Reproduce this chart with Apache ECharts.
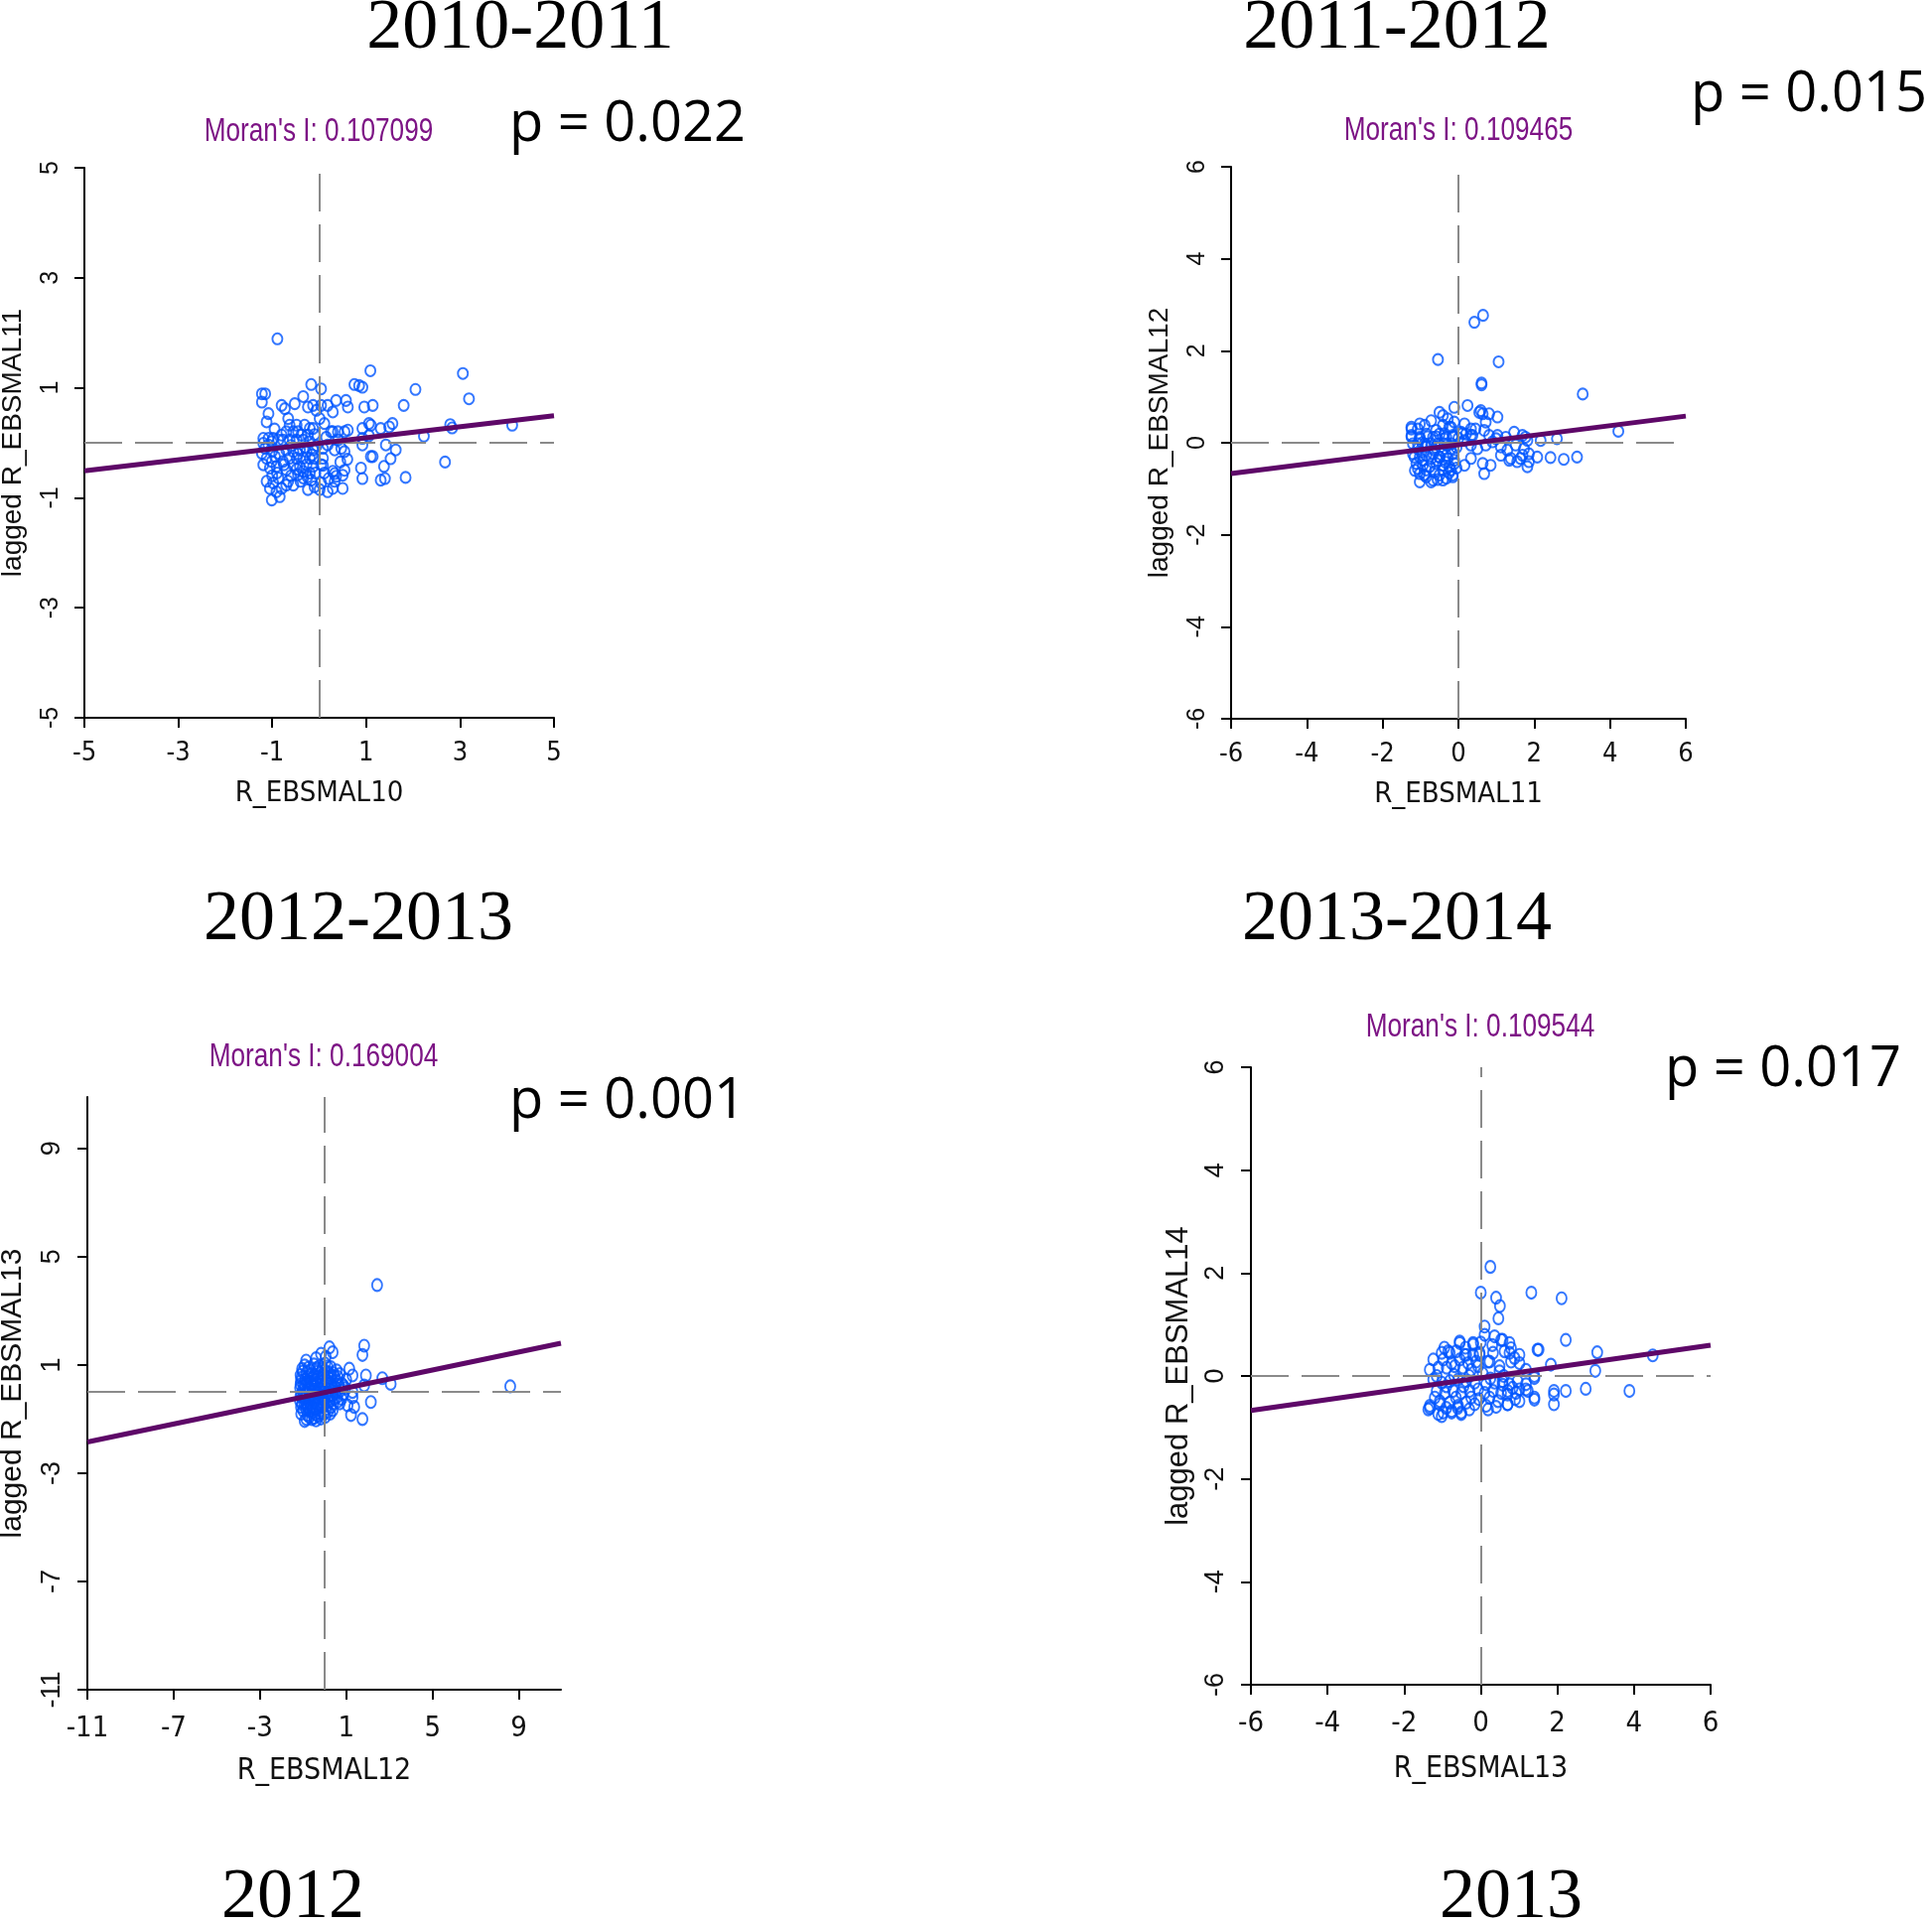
<!DOCTYPE html>
<html>
<head>
<meta charset="utf-8">
<script src="https://cdn.jsdelivr.net/npm/echarts@6/dist/echarts.min.js"></script>
<style>html,body{margin:0;padding:0;background:#fff;}#main{width:1946px;height:1937px;}</style>
</head>
<body>
<div id="main"></div>
<script>
// ---------- DATA ----------
const panelTitles = ['2010-2011', '2011-2012', '2012-2013', '2013-2014'];
const bottomTitles = ['2012', '2013'];
const pValues = ['p = 0.022', 'p = 0.015', 'p = 0.001', 'p = 0.017'];
const moranValues = ['0.107099', '0.109465', '0.169004', '0.109544'];
const xNames = ['R_EBSMAL10', 'R_EBSMAL11', 'R_EBSMAL12', 'R_EBSMAL13'];
const yNames = ['lagged R_EBSMAL11', 'lagged R_EBSMAL12', 'lagged R_EBSMAL13', 'lagged R_EBSMAL14'];

const ticks1 = [-5, -3, -1, 1, 3, 5];
const ticks2 = [-6, -4, -2, 0, 2, 4, 6];
const ticks3 = [-11, -7, -3, 1, 5, 9];
const ticks4 = [-6, -4, -2, 0, 2, 4, 6];

const range1 = {x: [-5, 5], y: [-5, 5]};
const range2 = {x: [-6, 6], y: [-6, 6]};
const range3 = {x: [-11, 10.95], y: [-11, 10.9]};
const range4 = {x: [-6, 6], y: [-6, 6]};

const fit1 = [[-5, -0.51], [5, 0.49]];
const fit2 = [[-6, -0.67], [6, 0.58]];
const fit3 = [[-11, -1.85], [10.95, 1.80]];
const fit4 = [[-6, -0.67], [6, 0.60]];

const points1 = [
[-0.89,1.89],[1.09,1.31],[3.06,1.26],[2.05,0.97],[3.19,0.80],[1.80,0.68],[0.75,1.06],[0.92,1.01],[-0.17,1.06],[0.04,0.98],
[0.85,1.04],
[-1.22,0.89],[-1.15,0.89],[-1.22,0.74],[-0.34,0.84],[-0.52,0.71],[-0.80,0.68],[-0.73,0.62],[-0.24,0.65],[-0.13,0.68],[-0.06,0.59],[0.04,0.68],[0.18,0.68],[0.29,0.56],
[0.36,0.77],[0.57,0.77],[0.61,0.65],[0.96,0.65],[1.14,0.68],
[-1.08,0.53],[-1.12,0.38],[-0.66,0.44],[-0.63,0.32],[0.11,0.35],[0.01,0.44],
[-0.48,0.32],[-0.31,0.32],[-0.20,0.26],[-0.13,0.26],[-0.24,0.14],[-0.38,0.14],[-0.70,0.20],[-0.55,0.20],[-0.80,0.14],
[0.29,0.20],[0.40,0.20],[0.54,0.20],[0.61,0.23],[0.92,0.26],[1.06,0.35],[1.10,0.32],[1.31,0.26],[1.49,0.29],[1.56,0.35],
[2.79,0.33],[2.83,0.27],[4.11,0.32],[2.23,0.12],[0.25,0.20],[0.92,0.08],[1.06,0.13],
[-1.19,0.08],[-1.08,0.08],[-0.98,0.08],[-1.19,-0.01],[-1.08,-0.04],[-1.01,0.02],[-0.87,0.05],[-0.77,0.05],[-0.63,0.05],[-0.48,0.05],[-0.34,0.05],[-0.20,0.02],
[0.47,-0.10],[0.33,-0.13],[0.54,-0.16],[0.18,-0.04],[0.08,-0.10],[0.92,-0.04],[1.42,-0.04],[1.63,-0.13],[2.68,-0.35],
[-1.22,-0.19],[-1.12,-0.28],[-1.01,-0.34],[-1.19,-0.40],[-1.05,-0.46],[-0.91,-0.43],[-0.94,-0.25],
[-0.70,-0.13],[-0.55,-0.16],[-0.41,-0.13],[-0.27,-0.16],[-0.13,-0.13],
[-0.63,-0.28],[-0.48,-0.28],[-0.34,-0.28],[-0.20,-0.28],[-0.10,-0.28],
[-0.55,-0.40],[-0.41,-0.43],[-0.27,-0.40],[-0.13,-0.43],[-0.34,-0.52],[-0.20,-0.55],[-0.45,-0.58],[-0.70,-0.49],[-0.77,-0.34],[-0.17,-0.68],[-0.34,-0.64],
[-1.12,-0.70],[-0.98,-0.73],[-0.87,-0.64],[-1.05,-0.83],[-0.91,-0.89],[-0.80,-0.83],[-1.01,-1.04],[-0.84,-0.98],[-0.66,-0.70],[-0.55,-0.77],[-0.70,-0.77],
[0.08,-0.28],[0.04,-0.40],[0.11,-0.55],[0.29,-0.52],[0.36,-0.61],[0.33,-0.70],[0.50,-0.83],[0.29,-0.83],[0.18,-0.89],[-0.24,-0.85],[0.04,-0.73],[0.01,-0.85],
[0.33,-0.56],[0.50,-0.59],[0.54,-0.50],[0.08,-0.41],
[0.89,-0.46],[1.10,-0.25],[1.14,-0.25],[1.52,-0.29],[1.38,-0.43],[0.92,-0.65],[1.31,-0.68],[1.40,-0.65],[1.84,-0.63],
[-1.15,-0.10],[-1.00,-0.15],[-0.85,-0.20],[-0.60,-0.05],[-0.45,-0.20],[-0.30,-0.08],[-0.15,-0.22],[-0.05,-0.05],[-0.90,-0.55],[-0.60,-0.60],
[-0.48,-0.48],[-0.25,-0.62],[-0.08,-0.55],[-1.00,-0.60],[-0.75,-0.40],[-0.40,-0.70],[-0.10,-0.80],[-0.95,0.25],[-0.45,0.20],[-0.10,0.15],
[0.15,0.10],[0.40,0.05],[0.60,-0.30],[0.20,-0.65],[0.45,-0.35]
];

const points2 = [
[0.42,2.62],[0.65,2.77],[-0.54,1.81],[1.06,1.76],[0.61,1.30],[0.61,1.26],[3.28,1.06],[4.22,0.25],
[-0.50,0.66],[-0.41,0.59],[-0.28,0.52],[-0.11,0.77],[0.24,0.81],[0.59,0.70],[0.64,0.63],[0.72,0.45],[1.03,0.56],[0.81,0.63],[0.55,0.66],
[-1.24,0.30],[-1.02,0.41],[-0.72,0.48],[-0.59,0.27],[-0.20,0.34],[-0.37,0.20],
[0.16,0.41],[0.33,0.30],[0.11,0.20],[0.33,0.16],[0.68,0.27],[0.81,0.16],[1.03,0.16],[1.47,0.23],[1.69,0.16],
[-1.24,0.13],[-1.02,0.09],[-0.81,0.13],[-0.59,0.13],[-0.37,0.09],[-0.15,0.13],
[-1.07,-0.13],[-0.85,-0.09],[-0.63,-0.16],[-0.41,-0.16],[-0.20,-0.13],
[-1.16,-0.31],[-0.94,-0.38],[-0.72,-0.34],[-0.50,-0.31],[-0.28,-0.34],[-0.11,-0.38],
[-1.07,-0.56],[-0.85,-0.59],[-0.63,-0.63],[-0.41,-0.59],[-0.20,-0.59],
[-1.02,-0.85],[-0.72,-0.85],[-0.41,-0.81],[-0.15,-0.74],
[0.16,0.05],[0.33,-0.05],[0.50,-0.13],[0.72,-0.05],[0.90,0.02],[1.12,-0.09],[1.29,-0.16],[1.51,-0.05],[1.73,-0.13],[1.82,0.05],
[0.16,-0.49],[0.33,-0.34],[0.64,-0.45],[0.68,-0.67],[0.85,-0.49],[1.12,-0.27],[1.38,-0.34],[1.55,-0.41],[1.82,-0.52],
[1.69,-0.27],[1.86,-0.24],[2.08,-0.31],[2.43,-0.32],[2.78,-0.36],[3.13,-0.31],[1.86,-0.41],[1.34,-0.38],[1.64,-0.34],
[0.99,0.09],[1.25,0.12],[1.77,0.12],[2.17,0.05],[2.60,0.09],[0.07,0.23],[0.20,0.19],[0.37,0.16],
[-1.24,0.34],[-1.24,0.16],[-1.07,0.30],[-0.89,0.38],
[-1.20,-0.02],[-1.07,-0.02],[-0.89,-0.02],[-0.72,-0.02],[-0.54,-0.02],[-0.37,-0.02],[-0.19,-0.02],
[-1.20,-0.24],[-1.02,-0.31],[-0.85,-0.27],[-0.67,-0.24],[-0.50,-0.31],[-0.32,-0.27],[-0.15,-0.24],
[-1.11,-0.45],[-0.94,-0.49],[-0.76,-0.52],[-0.59,-0.45],[-0.41,-0.49],[-0.24,-0.52],[-0.11,-0.45],
[-1.02,-0.67],[-0.85,-0.74],[-0.67,-0.81],[-0.50,-0.70],[-0.32,-0.77],[-0.15,-0.70],
[-1.02,0.12],[-0.85,0.19],[-0.67,0.12],[-0.50,0.19],[-0.32,0.12],[-0.15,0.16],[-0.41,0.38],[-0.24,0.34],[-0.11,0.45],
[-0.95,0.00],[-0.60,-0.10],[-0.30,-0.05],[-0.05,-0.10],[-0.98,-0.20],[-0.55,-0.38],[-0.35,-0.42],[-0.05,-0.55],[-0.90,-0.70],[-0.55,-0.80],
[-0.25,-0.65],[-1.15,-0.60],[0.00,0.10],[0.45,0.30]
];

const points3 = [
[-0.86,1.16],[-0.93,0.98],[-0.17,1.41],[0.22,1.65],[0.37,1.47],[-0.40,1.25],[0.05,1.30],
[-1.05,0.85],[-0.75,0.90],[-0.50,1.02],[-0.25,0.95],[0.02,1.05],[0.28,0.92],[0.55,0.80],
[-1.12,0.62],[-0.85,0.70],[-0.60,0.66],[-0.33,0.75],[-0.08,0.64],[0.18,0.72],[0.44,0.58],[0.70,0.66],[1.14,0.86],[1.29,0.61],
[-1.10,0.40],[-0.90,0.47],[-0.66,0.36],[-0.42,0.45],[-0.20,0.38],[0.07,0.44],[0.30,0.35],[0.55,0.42],[0.80,0.30],[1.00,0.45],
[-1.14,0.15],[-0.92,0.22],[-0.70,0.10],[-0.47,0.20],[-0.24,0.12],[0.00,0.25],[0.24,0.08],[0.48,0.18],[0.72,0.05],[0.95,0.14],[1.29,0.00],
[-1.08,-0.08],[-0.85,-0.02],[-0.62,-0.12],[-0.38,-0.05],[-0.15,-0.14],[0.10,-0.03],[0.35,-0.10],[0.58,-0.18],[0.85,-0.08],
[-1.15,-0.32],[-0.95,-0.26],[-0.72,-0.38],[-0.50,-0.28],[-0.27,-0.40],[-0.03,-0.30],[0.22,-0.36],[0.45,-0.25],[0.70,-0.42],
[-1.10,-0.55],[-0.86,-0.62],[-0.63,-0.50],[-0.40,-0.60],[-0.17,-0.52],[0.07,-0.62],[0.30,-0.55],[0.37,-0.67],
[-1.09,-0.80],[-0.80,-0.85],[-0.55,-0.75],[-0.30,-0.88],[-0.05,-0.80],[0.15,-0.72],
[-0.93,-1.07],[-0.60,-1.00],[-0.17,-0.98],[-0.40,-1.05],
[1.83,1.71],[1.75,1.37],[3.06,0.30],[2.67,0.51],[2.14,-0.37],[1.75,-1.00],[1.22,-0.85],[1.37,-0.55],[1.06,-0.49],[1.91,0.61],[1.83,0.24],[1.29,-0.20],[2.43,3.95],[8.60,0.21],
[-0.98,0.30],[-0.78,0.55],[-0.55,0.52],[-0.30,0.58],[-0.12,0.50],[0.15,0.55],[-1.00,-0.18],[-0.75,-0.20],[-0.52,-0.40],[-0.28,-0.20],[-0.05,-0.45],[0.18,-0.18],
[-0.95,-0.42],[-0.70,-0.68],[-0.45,-0.82],[-0.20,-0.68],[0.00,0.80],[-0.60,0.25],[-0.35,0.28],[-0.10,0.02],[0.12,0.30],[-0.80,-0.45],[-0.58,0.00],[0.40,0.10],[0.60,-0.35],
[-1.02,0.75],[-0.68,0.80],[-0.38,0.88],[-0.12,0.85],[0.12,0.95],[0.40,0.70],[-1.08,0.52],[-0.85,0.35],[-0.48,0.62],[-0.22,0.70],[0.30,0.62],[0.62,0.55],
[-1.12,0.28],[-0.78,0.38],[-0.52,0.32],[-0.15,0.25],[0.18,0.40],[0.65,0.28],[0.88,0.22],
[-1.02,0.05],[-0.75,0.12],[-0.45,0.08],[-0.30,-0.02],[0.05,0.12],[0.30,0.22],[0.55,0.02],
[-1.12,-0.15],[-0.88,-0.35],[-0.62,-0.25],[-0.40,-0.18],[-0.10,-0.22],[0.25,-0.12],[0.50,-0.05],[0.78,-0.25],
[-1.05,-0.45],[-0.78,-0.55],[-0.55,-0.62],[-0.32,-0.50],[-0.12,-0.38],[0.12,-0.48],[0.40,-0.42],
[-1.00,-0.68],[-0.72,-0.92],[-0.48,-0.95],[-0.25,-0.78],[0.02,-0.92],[0.25,-0.80],[-0.85,-1.00]
];

const points4 = [
[0.25,2.12],[0.00,1.62],[0.40,1.52],[0.50,1.36],[1.32,1.62],[2.11,1.51],[0.46,1.12],[0.10,0.96],[0.10,0.80],
[0.36,0.77],[0.57,0.70],[0.75,0.64],[0.79,0.54],[2.22,0.70],[1.51,0.51],[1.01,0.41],[0.79,0.28],[0.62,0.48],
[3.04,0.46],[2.99,0.10],[4.49,0.40],[1.83,0.22],[1.18,0.12],[1.40,0.00],[2.74,-0.25],[2.22,-0.29],[1.91,-0.29],[1.91,-0.36],[1.91,-0.55],
[3.88,-0.29],[1.40,-0.46],[1.23,-0.29],[0.70,-0.55],[0.70,-0.36],[0.83,-0.23],[1.01,-0.26],[0.57,-0.17],[0.19,-0.65],[0.23,-0.42],
[-0.55,0.67],[-0.20,0.64],[-0.38,0.41],[-0.20,0.41],[-0.03,0.41],[0.19,0.28],[0.49,0.19],[0.49,0.09],
[-1.02,0.45],[-1.24,0.32],[-1.33,0.12],[-0.85,0.48],[-0.64,0.48],
[-1.37,-0.65],[-1.33,-0.62],[-1.11,-0.74],[-0.98,-0.71],[-0.76,-0.71],[-0.51,-0.71],[-1.20,-0.42],[-1.07,-0.49],[-1.15,-0.29],
[0.53,0.70],[-0.55,0.64],[-0.20,0.61],[1.48,0.51],
[-0.81,0.45],[-0.42,0.41],[-0.03,0.45],[-0.98,0.32],[-0.76,0.25],[-0.55,0.32],[-0.33,0.25],[-0.12,0.28],
[-1.11,0.16],[-0.89,0.16],[-0.68,0.19],[-0.46,0.16],[-0.25,0.12],[-0.07,0.19],
[0.23,0.28],[0.32,0.45],[0.75,0.45],[0.88,0.35],[1.01,0.25],
[-1.24,-0.07],[-1.02,-0.13],[-0.81,-0.10],[-0.59,-0.07],[-0.38,-0.10],[-0.16,-0.13],
[0.14,-0.16],[0.36,-0.13],[0.57,-0.10],[0.75,-0.16],[0.96,-0.10],[1.18,-0.16],[1.40,-0.04],
[-0.94,-0.33],[-0.72,-0.29],[-0.51,-0.33],[-0.29,-0.29],[-0.07,-0.26],
[0.10,-0.33],[0.32,-0.29],[0.53,-0.33],[0.70,-0.29],[0.92,-0.33],[1.18,-0.26],[1.40,-0.42],
[-1.33,-0.58],[-1.07,-0.55],[-0.81,-0.52],[-0.59,-0.58],[-0.38,-0.52],[-0.16,-0.55],
[0.14,-0.58],[0.45,-0.49],[0.70,-0.55],[1.01,-0.49],
[-1.02,-0.78],[-0.76,-0.68],[-0.51,-0.74],
[-0.90,-0.20],[-0.65,-0.42],[-0.45,-0.20],[-0.25,-0.42],[-0.05,-0.45],[0.25,-0.05],[0.05,0.05],[-0.30,0.00],[-0.70,0.02],[-1.15,0.00],
[-0.90,-0.62],[-0.60,-0.62],[-0.30,-0.65],[0.40,-0.60],[0.60,0.00],[0.90,-0.45],[-0.95,0.55],[-0.40,0.55],[0.00,0.65],[0.30,0.60]
];

// ---------- LAYOUT / STYLE ----------
const NARROW = '"Liberation Sans Narrow","Arial Narrow","DejaVu Sans Condensed",sans-serif';
const SANS = '"Liberation Sans",Arial,sans-serif';
const SERIF = '"Liberation Serif","Times New Roman",serif';
const PFONT = '"Open Sans","Noto Sans",sans-serif';
const BLUE = '#0055ff';
const PURPLE = '#5e0868';
const MORAN = '#7d1485';

const panels = [
  {pts: points1, fit: fit1, ticks: ticks1, range: range1,
   grid: {left: 85, top: 169, width: 473, height: 554},
   xLabSize: 27, yLabSize: 25, xNameSize: 29, yNameSize: 28, xLabMargin: 22, yLabMargin: 21, xNameGap: 62, yNameGap: 58, sym: [10, 11]},
  {pts: points2, fit: fit2, ticks: ticks2, range: range2,
   grid: {left: 1240, top: 168, width: 458, height: 556},
   xLabSize: 27, yLabSize: 25, xNameSize: 29, yNameSize: 28, xLabMargin: 22, yLabMargin: 21, xNameGap: 62, yNameGap: 58, sym: [10, 11]},
  {pts: points3, fit: fit3, ticks: ticks3, range: range3,
   grid: {left: 88, top: 1105, width: 477, height: 597},
   xLabSize: 29, yLabSize: 27, xNameSize: 30, yNameSize: 30, xLabMargin: 25, yLabMargin: 22, xNameGap: 67, yNameGap: 60, sym: [10, 12]},
  {pts: points4, fit: fit4, ticks: ticks4, range: range4,
   grid: {left: 1260, top: 1075, width: 463, height: 622},
   xLabSize: 29, yLabSize: 27, xNameSize: 30, yNameSize: 31, xLabMargin: 25, yLabMargin: 22, xNameGap: 70, yNameGap: 57, sym: [10, 12]}
];

const grids = [], xAxes = [], yAxes = [], series = [];
panels.forEach((p, i) => {
  grids.push(Object.assign({containLabel: false, outerBoundsMode: 'none'}, p.grid));
  const axisCommon = {
    type: 'value', gridIndex: i,
    axisLine: {show: true, onZero: false, lineStyle: {color: '#000', width: 2}},
    axisTick: {show: true, inside: false, length: 10, lineStyle: {color: '#000', width: 2}, customValues: p.ticks},
    splitLine: {show: false},
    nameLocation: 'middle'
  };
  xAxes.push(Object.assign({}, axisCommon, {
    min: p.range.x[0], max: p.range.x[1],
    axisLabel: {customValues: p.ticks, margin: p.xLabMargin, fontFamily: NARROW, fontSize: p.xLabSize, color: '#111'},
    name: xNames[i], nameGap: p.xNameGap,
    nameTextStyle: {fontFamily: NARROW, fontSize: p.xNameSize, color: '#111'}
  }));
  yAxes.push(Object.assign({}, axisCommon, {
    min: p.range.y[0], max: p.range.y[1],
    axisLabel: {customValues: p.ticks, rotate: 90, margin: p.yLabMargin, fontFamily: SANS, fontSize: p.yLabSize, color: '#111'},
    name: yNames[i], nameGap: p.yNameGap, nameRotate: 90,
    nameTextStyle: {fontFamily: SANS, fontSize: p.yNameSize, color: '#111'}
  }));
  series.push({
    type: 'scatter', xAxisIndex: i, yAxisIndex: i, data: p.pts,
    symbol: 'circle', symbolSize: p.sym, z: 3, silent: true,
    itemStyle: {color: 'rgba(0,0,0,0)', borderColor: BLUE, borderWidth: 2}
  });
  series.push({
    type: 'line', xAxisIndex: i, yAxisIndex: i, data: [], z: 4, silent: true,
    markLine: {
      silent: true, symbol: ['none', 'none'], label: {show: false}, animation: false,
      lineStyle: {type: [38, 13], color: '#8a8a8a', width: 2},
      data: [{xAxis: 0}, {yAxis: 0}]
    }
  });
  series.push({
    type: 'line', xAxisIndex: i, yAxisIndex: i, data: p.fit, z: 5, silent: true,
    symbol: 'none', lineStyle: {color: PURPLE, width: 5}
  });
});

function txt(text, x, y, font, fill, sx) {
  return {type: 'text', x: x, y: y, z: 10, silent: true, scaleX: sx || 1,
    style: {text: text, font: font, fill: fill, align: 'center', verticalAlign: 'middle',
            textAlign: 'center', textVerticalAlign: 'middle'}};
}
const titlePos = [[524, 29], [1407, 29], [361, 927], [1407, 927]];
const bottomPos = [[295, 1912], [1522, 1912]];
const pPos = [[632, 126], [1822, 96], [632, 1110], [1796, 1078]];
const mPos = [[321, 133], [1469, 132], [326, 1065], [1491, 1035]];

const graphics = [];
panelTitles.forEach((t, i) => graphics.push(txt(t, titlePos[i][0], titlePos[i][1], '72px ' + SERIF, '#000')));
bottomTitles.forEach((t, i) => graphics.push(txt(t, bottomPos[i][0], bottomPos[i][1], '72px ' + SERIF, '#000')));
pValues.forEach((t, i) => graphics.push(txt(t, pPos[i][0], pPos[i][1], '500 56px ' + PFONT, '#000')));
moranValues.forEach((t, i) => graphics.push(txt("Moran's I: " + t, mPos[i][0], mPos[i][1], '34px ' + SANS, MORAN, 0.77)));

const chart = echarts.init(document.getElementById('main'), null, {renderer: 'canvas'});
chart.setOption({
  animation: false,
  backgroundColor: '#fff',
  grid: grids, xAxis: xAxes, yAxis: yAxes, series: series,
  graphic: {elements: graphics}
});
</script>
</body>
</html>
